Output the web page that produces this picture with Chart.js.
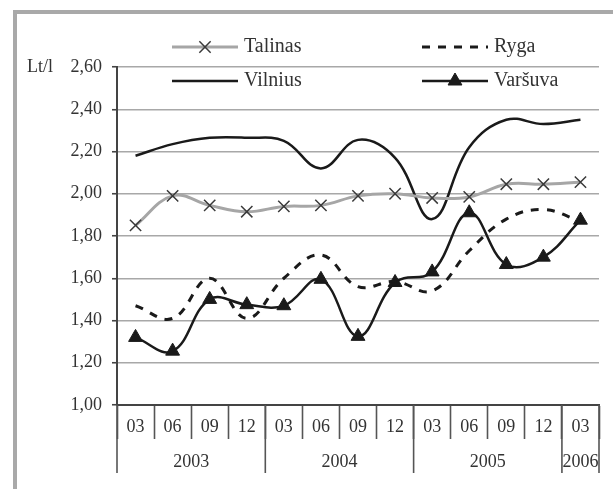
<!DOCTYPE html>
<html>
<head>
<meta charset="utf-8">
<script src="https://cdn.jsdelivr.net/npm/chart.js@4/dist/chart.umd.min.js"></script>
<style>
  html, body { margin: 0; padding: 0; background: #ffffff; overflow: hidden; }
  #frame { position: absolute; left: 13px; top: 10px; width: 700px; height: 600px; border-left: 4px solid #a9a9a9; border-top: 4px solid #a9a9a9; }
  #c { position: absolute; left: 0; top: 0; }
</style>
</head>
<body>
<div id="frame"></div>
<canvas id="c" width="613" height="489"></canvas>
<script>
const months = ['03','06','09','12','03','06','09','12','03','06','09','12','03'];
const years = ['2003','2004','2005','2006'];
const yearSpans = [4, 4, 4, 1];
const yTicks = [1.00, 1.20, 1.40, 1.60, 1.80, 2.00, 2.20, 2.40, 2.60];
const yUnit = 'Lt/l';

const talinas = [1.85, 1.99, 1.945, 1.915, 1.94, 1.945, 1.99, 2.00, 1.98, 1.985, 2.045, 2.045, 2.055];
const ryga    = [1.47, 1.41, 1.60, 1.41, 1.60, 1.71, 1.56, 1.585, 1.54, 1.73, 1.88, 1.925, 1.87];
const vilnius = [2.18, 2.235, 2.265, 2.265, 2.25, 2.12, 2.255, 2.17, 1.88, 2.22, 2.35, 2.33, 2.35];
const varsuva = [1.32, 1.255, 1.50, 1.475, 1.47, 1.595, 1.325, 1.58, 1.63, 1.91, 1.665, 1.70, 1.875];

const FONT = '"Liberation Serif", "DejaVu Serif", serif';
const TEXT = '#333333';

const legendItems = [
  { label: 'Talinas', ds: 0, col: 0, row: 0 },
  { label: 'Ryga', ds: 1, col: 1, row: 0 },
  { label: 'Vilnius', ds: 2, col: 0, row: 1 },
  { label: 'Varšuva', ds: 3, col: 1, row: 1 }
];
const colX = [172, 422];
const rowY = [47, 81];
const lineLen = 66;

const extras = {
  id: 'extras',
  afterDraw(chart) {
    const ctx = chart.ctx;
    const x = chart.scales.x;
    const y = chart.scales.y;
    const half = (x.getPixelForValue(1) - x.getPixelForValue(0)) / 2;
    const axisY = y.getPixelForValue(1.0);
    ctx.save();
    // year separators & labels
    ctx.strokeStyle = '#555555';
    ctx.lineWidth = 1.6;
    let start = 0;
    const bounds = [0];
    yearSpans.forEach(s => { start += s; bounds.push(start); });
    const edge = b => b < months.length ? x.getPixelForValue(b) - half : x.getPixelForValue(months.length - 1) + half;
    bounds.forEach(b => {
      const px = edge(b);
      ctx.beginPath();
      ctx.moveTo(px, axisY);
      ctx.lineTo(px, axisY + 68);
      ctx.stroke();
    });
    ctx.fillStyle = TEXT;
    ctx.font = '18px ' + FONT;
    ctx.textAlign = 'center';
    ctx.textBaseline = 'middle';
    for (let i = 0; i < years.length; i++) {
      ctx.fillText(years[i], (edge(bounds[i]) + edge(bounds[i + 1])) / 2, axisY + 57);
    }
    // unit label
    ctx.textAlign = 'left';
    ctx.fillText(yUnit, 27, y.getPixelForValue(2.6));

    // legend
    ctx.font = '20px ' + FONT;
    legendItems.forEach(it => {
      const ds = chart.data.datasets[it.ds];
      const x0 = colX[it.col], yy = rowY[it.row];
      ctx.save();
      ctx.strokeStyle = ds.borderColor;
      ctx.lineWidth = ds.borderWidth;
      ctx.setLineDash(ds.borderDash || []);
      ctx.beginPath();
      ctx.moveTo(x0, yy);
      ctx.lineTo(x0 + lineLen, yy);
      ctx.stroke();
      ctx.restore();
      if (ds.pointRadius > 0) {
        ctx.save();
        ctx.strokeStyle = ds.pointBorderColor;
        ctx.fillStyle = ds.pointBackgroundColor;
        ctx.lineWidth = ds.pointBorderWidth;
        Chart.helpers.drawPoint(ctx, {
          pointStyle: ds.pointStyle,
          radius: ds.pointRadius,
          rotation: 0,
          borderWidth: ds.pointBorderWidth
        }, x0 + lineLen / 2, yy);
        ctx.restore();
      }
      ctx.fillStyle = TEXT;
      ctx.textAlign = 'left';
      ctx.textBaseline = 'middle';
      ctx.fillText(it.label, x0 + lineLen + 6, yy);
    });
    ctx.restore();
  }
};

new Chart(document.getElementById('c'), {
  type: 'line',
  data: {
    labels: months,
    datasets: [
      {
        label: 'Talinas', data: talinas,
        borderColor: '#a6a6a6', borderWidth: 3, tension: 0.4,
        pointStyle: 'crossRot', pointRadius: 8, pointBorderColor: '#3a3a3a',
        pointBackgroundColor: '#3a3a3a', pointBorderWidth: 1.5
      },
      {
        label: 'Ryga', data: ryga,
        borderColor: '#1a1a1a', borderWidth: 3, borderDash: [8, 8], tension: 0.4,
        pointRadius: 0
      },
      {
        label: 'Vilnius', data: vilnius,
        borderColor: '#1a1a1a', borderWidth: 2.5, tension: 0.4,
        pointRadius: 0
      },
      {
        label: 'Varšuva', data: varsuva,
        borderColor: '#1a1a1a', borderWidth: 2.5, tension: 0.4,
        pointStyle: 'triangle', pointRadius: 8, pointBorderColor: '#1a1a1a',
        pointBackgroundColor: '#1a1a1a', pointBorderWidth: 1
      }
    ]
  },
  options: {
    responsive: false,
    animation: false,
    devicePixelRatio: 1,
    layout: { padding: { left: 0, top: 67, right: 14, bottom: 0 } },
    plugins: { legend: { display: false }, tooltip: { enabled: false } },
    scales: {
      x: {
        type: 'category',
        offset: true,
        afterFit(s) { s.height = 84; },
        grid: {
          offset: true, drawOnChartArea: false, drawTicks: true,
          tickLength: 34, tickColor: '#555555', tickWidth: 1.6
        },
        border: { display: true, color: '#444444', width: 2 },
        ticks: {
          color: TEXT, font: { family: FONT, size: 18 },
          padding: -23, maxRotation: 0, autoSkip: false
        }
      },
      y: {
        min: 1.0, max: 2.6,
        afterFit(s) { s.width = 117; },
        afterBuildTicks(s) { s.ticks = yTicks.map(v => ({ value: v })); },
        grid: {
          color: '#a8a8a8', lineWidth: 1.5, borderDash: [1.5, 6],
          drawTicks: true, tickLength: 5, tickColor: '#444444', tickWidth: 1.6,
          tickBorderDash: []
        },
        border: { display: true, color: '#444444', width: 2 },
        ticks: {
          color: TEXT, font: { family: FONT, size: 18 }, padding: 10,
          callback: v => v.toFixed(2).replace('.', ',')
        }
      }
    }
  },
  plugins: [extras]
});
</script>
</body>
</html>
